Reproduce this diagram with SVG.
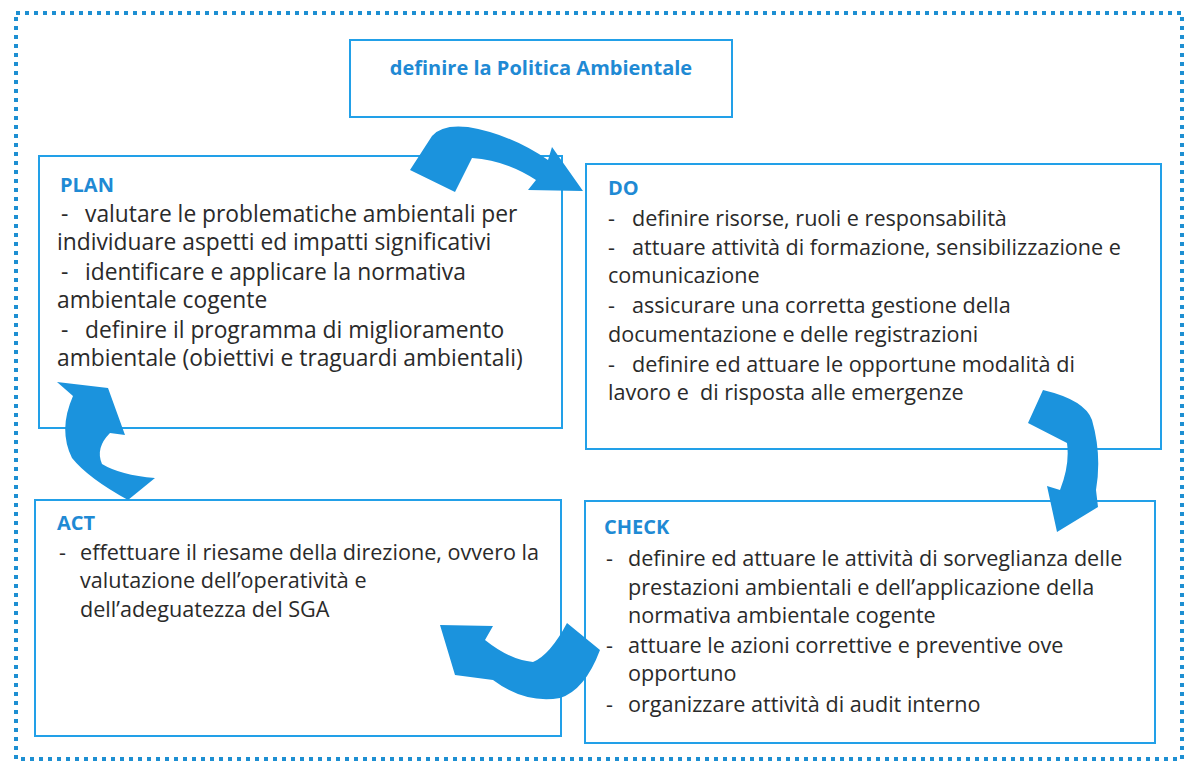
<svg xmlns="http://www.w3.org/2000/svg" width="1186" height="762" viewBox="0 0 1186 762">
<style>
.box{fill:#fff;stroke:#22a0e8;stroke-width:2}
.t{font-family:"Open Sans",Lato,sans-serif;font-size:21.6px;fill:#2a2a2a}
#plan .t{font-size:22.8px}
.h{font-family:"Open Sans",Lato,sans-serif;font-size:20px;font-weight:bold;fill:#1f8ad4}
.ht{font-family:"Open Sans",Lato,sans-serif;font-size:20px;font-weight:bold;fill:#1f8ad4}
.arr{fill:#1b93dd}
</style>
<rect width="1186" height="762" fill="#fff"/>
<rect x="16" y="13" width="1166" height="746" fill="none" stroke="#1d8fd2" stroke-width="4" stroke-dasharray="4,5"/>
<g id="politica">
<rect class="box" x="350" y="40" width="382" height="77"/>
<text class="ht" x="541" y="75" text-anchor="middle">definire la Politica Ambientale</text>
</g>
<g id="plan">
<rect class="box" x="39" y="156" width="523" height="272"/>
<text class="h" x="60" y="192">PLAN</text>
<text class="t" x="61" y="222">-</text><text class="t" x="85" y="222">valutare le problematiche ambientali per</text>
<text class="t" x="57" y="250">individuare aspetti ed impatti significativi</text>
<text class="t" x="61" y="280">-</text><text class="t" x="85" y="280">identificare e applicare la normativa</text>
<text class="t" x="57" y="308">ambientale cogente</text>
<text class="t" x="61" y="338">-</text><text class="t" x="85" y="338">definire il programma di miglioramento</text>
<text class="t" x="57" y="366">ambientale (obiettivi e traguardi ambientali)</text>
</g>
<g id="do">
<rect class="box" x="586" y="164" width="575" height="285"/>
<text class="h" x="608" y="195">DO</text>
<text class="t" x="608" y="226">-</text><text class="t" x="632" y="226">definire risorse, ruoli e responsabilità</text>
<text class="t" x="608" y="255">-</text><text class="t" x="632" y="255">attuare attività di formazione, sensibilizzazione e</text>
<text class="t" x="608" y="283">comunicazione</text>
<text class="t" x="608" y="313">-</text><text class="t" x="632" y="313">assicurare una corretta gestione della</text>
<text class="t" x="608" y="342">documentazione e delle registrazioni</text>
<text class="t" x="608" y="372">-</text><text class="t" x="632" y="372">definire ed attuare le opportune modalità di</text>
<text class="t" x="608" y="400" xml:space="preserve">lavoro e  di risposta alle emergenze</text>
</g>
<g id="act">
<rect class="box" x="35" y="500" width="526" height="236"/>
<text class="h" x="57" y="530">ACT</text>
<text class="t" x="59" y="560">-</text><text class="t" x="80" y="560">effettuare il riesame della direzione, ovvero la</text>
<text class="t" x="80" y="588">valutazione dell’operatività e</text>
<text class="t" x="80" y="617">dell’adeguatezza del SGA</text>
</g>
<g id="check">
<rect class="box" x="585" y="501" width="570" height="242"/>
<text class="h" x="604" y="534">CHECK</text>
<text class="t" x="606" y="566">-</text><text class="t" x="628" y="566">definire ed attuare le attività di sorveglianza delle</text>
<text class="t" x="628" y="595">prestazioni ambientali e dell’applicazione della</text>
<text class="t" x="628" y="623">normativa ambientale cogente</text>
<text class="t" x="606" y="653">-</text><text class="t" x="628" y="653">attuare le azioni correttive e preventive ove</text>
<text class="t" x="628" y="681">opportuno</text>
<text class="t" x="606" y="712">-</text><text class="t" x="628" y="712">organizzare attività di audit interno</text>
</g>
<g id="connectors">
<path class="arr" d="M410,170 L432,136 Q442,124 468,127 Q510,134 548,160 L552,147 L583,191 L528,190 L536,180 Q505,160 472,158 L455,192 Z"/>
<path class="arr" d="M1043,390 Q1085,400 1092,420 Q1102,455 1096,490 L1098,507 L1057,532 L1047,486 L1060,490 Q1070,465 1067,443 L1028,423 Z"/>
<path class="arr" d="M567,623 L600,650 Q585,690 560,698 Q525,704 493,680 L455,675 L440,625 L493,626 L485,640 Q510,660 533,662 Q550,655 567,623 Z"/>
<path class="arr" d="M57,382 L108,388 L125,435 L110,433 Q95,448 102,464 Q120,475 155,478 L128,500 Q88,478 72,458 Q58,430 73,396 Z"/>
</g>
</svg>
